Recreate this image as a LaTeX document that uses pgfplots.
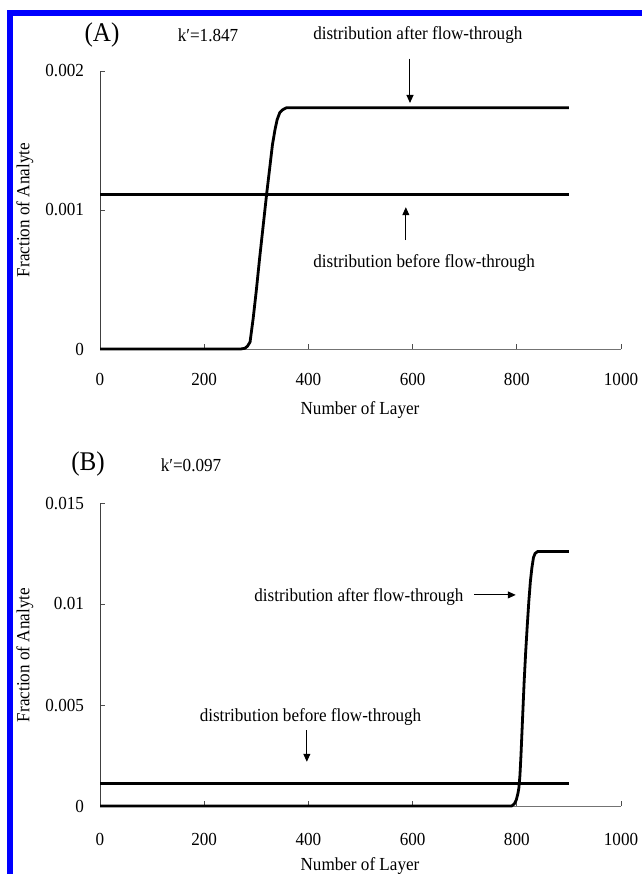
\documentclass[border=0pt]{standalone}
\usepackage{fontspec}
\setmainfont{Liberation Serif}[FakeStretch=0.93]
\usepackage{pgfplots}
\usepackage{pgfplotstable}
\pgfplotsset{compat=1.18}
\usetikzlibrary{arrows.meta}

\pgfplotstableread{
x y
0 0.00111
900 0.00111
}\beforeA

\pgfplotstableread{
x y
0 0
270 0
278 0.000005
283 0.00002
288 0.00005
294 0.00022
300 0.00042
306 0.00064
313 0.00088
320 0.00112
326 0.00131
331 0.00147
336 0.00158
340 0.00165
345 0.00170
350 0.00172
358 0.001736
900 0.001736
}\afterA

\pgfplotstableread{
x y
0 0.00111
900 0.00111
}\beforeB

\pgfplotstableread{
x y
0 0
790 0
795 0.0001
799 0.0003
802 0.0006
804 0.0009
806 0.0015
808 0.0025
811 0.0043
814 0.0061
817 0.0076
820 0.0089
823 0.0101
826 0.0111
829 0.0118
832 0.0123
835 0.0125
840 0.0126
900 0.0126
}\afterB

\newcommand{\lbl}{\fontsize{9.2}{10}\selectfont}
\newcommand{\panelfont}{\fontsize{13.5}{15}\selectfont}

\begin{document}
\begin{tikzpicture}
\path[use as bounding box] (0,0) rectangle (321pt,-437pt);
\fill[white] (0,0) rectangle (321pt,-437pt);
\fill[blue] (3.5pt,-5pt) rectangle (6.5pt,-437pt);
\fill[blue] (3.5pt,-5pt) rectangle (321pt,-8pt);

\pgfplotsset{myax/.style={
  scale only axis, width=260.5pt, xmin=0, xmax=1000,
  axis lines*=left, clip=false,
  scaled y ticks=false, scaled x ticks=false,
  x axis line style={black!55, line width=0.5pt},
  y axis line style={black!75, line width=0.5pt},
  tick style={black!70, line width=0.5pt},
  tick align=inside, major tick length=2.5pt,
  xtick={0,200,400,600,800,1000},
  xticklabels={0,200,400,600,800,1000},
  /pgf/number format/assume math mode=true,
  tick label style={font=\lbl},
  yticklabel style={anchor=east, xshift=-4.5pt},
  anchor=south west,
}}

% Panel A
\begin{axis}[myax, at={(50pt,-174.5pt)}, height=139pt,
  ymin=0, ymax=0.002, ytick={0,0.001,0.002}, yticklabels={0,0.001,0.002},
  xticklabel style={anchor=center, yshift=-15pt}]
\addplot[no marks, black, line width=1.4pt] table[x=x,y=y] {\beforeA};
\addplot[no marks, black, line width=1.4pt, line join=round] table[x=x,y=y] {\afterA};
\node[font=\lbl] at (axis cs:610,0.002259) {distribution after flow-through};
\draw[line width=0.5pt, -{Triangle[length=4pt,width=3.5pt]}] (axis cs:595,0.00209) -- (axis cs:595,0.00177);
\node[font=\lbl] at (axis cs:622,0.000619) {distribution before flow-through};
\draw[line width=0.5pt, -{Triangle[length=4pt,width=3.5pt]}] (axis cs:587,0.000784) -- (axis cs:587,0.00102);
\end{axis}

% Panel B
\begin{axis}[myax, at={(50pt,-403pt)}, height=151.5pt,
  ymin=0, ymax=0.015, ytick={0,0.005,0.01,0.015}, yticklabels={0,0.005,0.01,0.015},
  xticklabel style={anchor=center, yshift=-16.5pt}]
\addplot[no marks, black, line width=1.4pt] table[x=x,y=y] {\beforeB};
\addplot[no marks, black, line width=1.4pt, line join=round] table[x=x,y=y] {\afterB};
\node[font=\lbl] at (axis cs:497,0.01037) {distribution after flow-through};
\draw[line width=0.5pt, -{Triangle[length=4pt,width=3.5pt]}] (axis cs:718,0.01045) -- (axis cs:798,0.01045);
\node[font=\lbl] at (axis cs:404,0.00442) {distribution before flow-through};
\draw[line width=0.5pt, -{Triangle[length=4pt,width=3.5pt]}] (axis cs:397,0.00376) -- (axis cs:397,0.00219);
\end{axis}

\begin{scope}[x=0.5pt, y=-0.5pt]
\node[font=\panelfont] at (102,35) {(A)};
\node[font=\lbl] at (208,35) {k′=1.847};
\node[font=\lbl, rotate=90] at (25,210) {Fraction of Analyte};
\node[font=\lbl] at (360,410) {Number of Layer};
\node[font=\panelfont] at (88,464) {(B)};
\node[font=\lbl] at (191,465) {k′=0.097};
\node[font=\lbl, rotate=90] at (25,655) {Fraction of Analyte};
\node[font=\lbl] at (360,866) {Number of Layer};
\end{scope}
\end{tikzpicture}
\end{document}
